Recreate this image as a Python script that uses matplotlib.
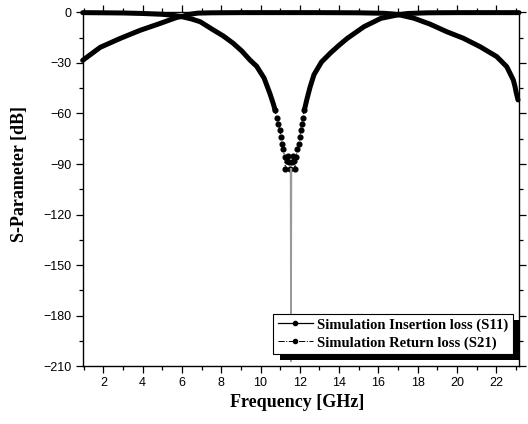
import numpy as np
import matplotlib
matplotlib.use("Agg")
import matplotlib.pyplot as plt
from matplotlib.ticker import MultipleLocator
from matplotlib.lines import Line2D
from matplotlib.patches import Rectangle

# S11 (the curve with the deep notch)
s11_freq = [0.95, 2.0, 3.0, 4.0, 5.0, 5.5, 6.0, 6.5, 6.93, 7.6, 8.1, 8.61,
            9.05, 9.46, 9.8, 10.18, 10.48, 10.65, 10.74, 10.82, 10.9, 10.99,
            11.04, 11.08, 11.16, 11.22, 11.27, 11.33, 11.41, 11.47, 11.5,
            11.6, 11.67, 11.72, 11.75, 11.8, 11.88, 11.96, 12.01, 12.04,
            12.09, 12.14, 12.23, 12.35, 12.52, 12.72, 13.1, 13.57, 14.0,
            14.42, 15.27, 16.12, 16.96, 17.5, 18.5, 20.0, 21.5, 23.15]
s11_db = [-0.2, -0.3, -0.4, -0.7, -1.2, -1.7, -2.6, -4.0, -5.6, -10.5, -14.0,
          -18.4, -23.0, -28.3, -32.0, -39.0, -48.3, -54.3, -58.0, -63.0,
          -66.0, -70.0, -74.0, -78.0, -81.0, -86.0, -93.0, -88.0, -85.0,
          -89.0, -93.0, -89.0, -85.0, -88.0, -93.0, -86.0, -81.0, -78.0,
          -74.0, -70.0, -66.0, -63.0, -58.0, -52.0, -44.4, -37.0, -29.5,
          -24.0, -19.5, -15.4, -8.5, -3.6, -1.6, -0.7, -0.3, -0.2, -0.2, -0.2]

# narrow spike at the resonance
spike_freq = [11.53, 11.55, 11.57]
spike_db = [-93.0, -207.0, -93.0]

# S21 (the passband curve)
s21_freq = [0.95, 1.84, 2.86, 3.87, 4.89, 5.75, 6.0, 6.4, 6.8, 7.5, 9.0,
            11.0, 13.0, 15.0, 16.3, 16.7, 17.1, 17.8, 18.62, 19.47, 20.32,
            21.17, 22.02, 22.53, 22.86, 22.95, 23.0, 23.1]
s21_db = [-28.5, -20.8, -15.5, -10.7, -6.6, -3.0, -2.5, -1.2, -0.5, -0.3,
          -0.2, -0.2, -0.2, -0.3, -0.6, -1.0, -1.6, -3.5, -7.0, -11.5,
          -15.4, -20.4, -26.3, -32.3, -40.1, -44.1, -47.1, -52.0]

xticks = [2, 4, 6, 8, 10, 12, 14, 16, 18, 20, 22]
yticks = [0, -30, -60, -90, -120, -150, -180, -210]
labels = ["Simulation Insertion loss (S11)", "Simulation Return loss (S21)"]

serif = {"family": "Liberation Serif", "weight": "bold"}
plt.rcParams["font.family"] = ["Liberation Sans", "DejaVu Sans"]

fig = plt.figure(figsize=(5.28, 4.24), dpi=100)
ax = fig.add_axes([0.1566, 0.1361, 0.8263, 0.8349])

f11 = np.array(s11_freq)
d11 = np.array(s11_db)
upper = np.where(d11 >= -60, d11, np.nan)
dip = d11 <= -58

ax.plot(f11, upper, color="k", lw=3.6, solid_capstyle="round", clip_on=False)
ax.plot(f11[dip], d11[dip], color="k", ls=":", lw=0.8, marker="o", ms=3.4,
        clip_on=False)
ax.plot(spike_freq, spike_db, color="0.6", lw=1.2)
ax.plot(s21_freq, s21_db, color="k", lw=3.6, solid_capstyle="round",
        clip_on=False)

ax.set_xlim(0.95, 23.15)
ax.set_ylim(-210, 0)
ax.set_xticks(xticks)
ax.set_yticks(yticks)
ax.xaxis.set_minor_locator(MultipleLocator(1))
ax.yaxis.set_minor_locator(MultipleLocator(15))
ax.tick_params(which="both", direction="out", top=True, right=True,
               labeltop=False, labelright=False, width=0.9, labelsize=9)
ax.tick_params(which="major", length=4.8, pad=3)
ax.tick_params(which="minor", length=2.6)
for sp in ax.spines.values():
    sp.set_linewidth(1.0)

ax.set_xlabel("Frequency [GHz]", fontdict=serif, fontsize=13, va="top")
ax.set_ylabel("S-Parameter [dB]", fontdict=serif, fontsize=13)
ax.xaxis.set_label_coords(0.492, -0.078)
ax.yaxis.set_label_coords(-0.125, 0.543)

handles = [Line2D([], [], color="k", lw=0.9, ls="-", marker="o", ms=3),
           Line2D([], [], color="k", lw=0.7, ls="-.", marker="o", ms=3)]
leg = ax.legend(handles, labels, loc="lower right",
                bbox_to_anchor=(0.986, 0.035), borderaxespad=0,
                prop={"family": "Liberation Serif", "weight": "bold",
                      "size": 10.5},
                frameon=True, fancybox=False, framealpha=1, edgecolor="k",
                borderpad=0.3, labelspacing=0.3, handlelength=2.4,
                handletextpad=0.3)
leg.get_frame().set_linewidth(0.8)
leg.set_zorder(5)

# heavy black drop shadow behind the legend box
fig.canvas.draw()
bb = leg.get_window_extent().transformed(fig.transFigure.inverted())
dx, dy = 7 / 528, 6 / 424
ax.add_patch(Rectangle((bb.x0 + dx, bb.y0 - dy), bb.width, bb.height,
                       transform=fig.transFigure, facecolor="k",
                       edgecolor="none", zorder=4.9, clip_on=False))

fig.savefig("out.png", dpi=100, facecolor="white")
